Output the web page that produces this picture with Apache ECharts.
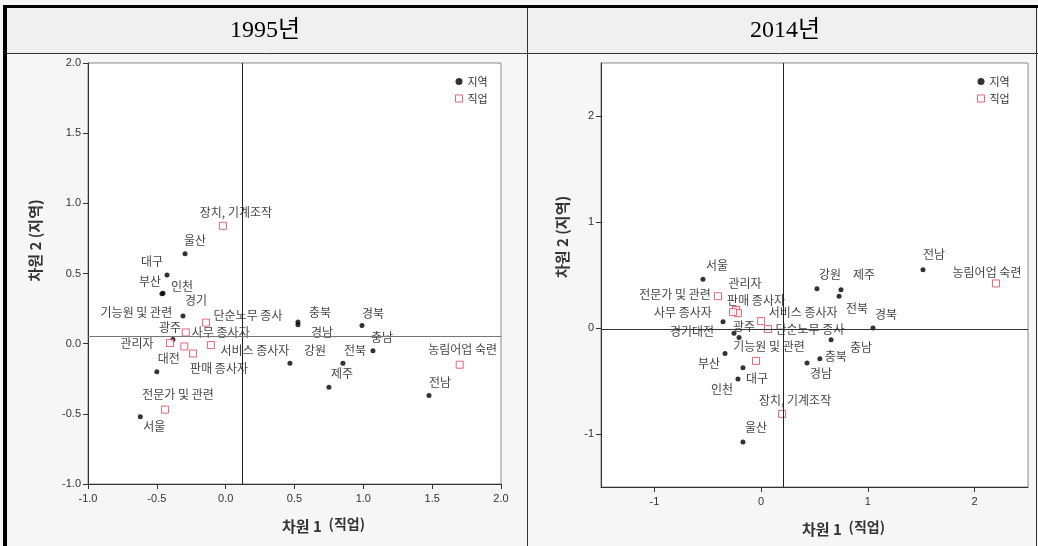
<!DOCTYPE html>
<html>
<head>
<meta charset="utf-8">
<script src="https://cdn.jsdelivr.net/npm/echarts@6/dist/echarts.min.js"></script>
<style>
  html, body { margin: 0; padding: 0; background: #fff; }
  #main { width: 1038px; height: 546px; }
</style>
</head>
<body>
<div id="main"></div>
<script>
// categories
var regionNames = ['서울', '부산', '대구', '인천', '광주', '대전', '울산', '경기',
    '강원', '충북', '충남', '전북', '전남', '경북', '경남', '제주'];
var jobNames = ['관리자', '전문가 및 관련', '사무 종사자', '서비스 종사자', '판매 종사자',
    '농림어업 숙련', '기능원 및 관련', '장치, 기계조작', '단순노무 종사'];

// 1995 (차원 1, 차원 2)
var regionPts1995 = [[-0.62, -0.52], [-0.463, 0.355], [-0.426, 0.49], [-0.455, 0.36],
    [-0.383, 0.03], [-0.50, -0.20], [-0.295, 0.64], [-0.31, 0.198],
    [0.467, -0.14], [0.525, 0.155], [1.07, -0.05], [0.852, -0.14],
    [1.477, -0.37], [0.99, 0.13], [0.525, 0.135], [0.75, -0.31]];
var jobPts1995 = [[-0.404, 0.005], [-0.44, -0.47], [-0.29, 0.08], [-0.107, -0.01], [-0.237, -0.07],
    [1.70, -0.15], [-0.30, -0.02], [-0.02, 0.84], [-0.143, 0.15]];
var ref1995 = [0.12, 0.048];

// 2014
var regionPts2014 = [[-0.545, 0.46], [-0.338, -0.24], [-0.17, -0.375], [-0.217, -0.48],
    [-0.357, 0.06], [-0.207, -0.09], [-0.17, -1.075], [-0.254, -0.05],
    [0.523, 0.37], [0.55, -0.29], [0.655, -0.11], [0.73, 0.30],
    [1.516, 0.55], [1.048, 0.0], [0.43, -0.33], [0.748, 0.36]];
var jobPts2014 = [[-0.235, 0.17], [-0.404, 0.30], [-0.217, 0.14], [0.0, 0.065], [-0.263, 0.15],
    [2.20, 0.42], [-0.048, -0.31], [0.196, -0.81], [0.064, -0.01]];
var ref2014 = [0.21, -0.01];

// tick labels
var ticks1995 = [-1.0, -0.5, 0.0, 0.5, 1.0, 1.5, 2.0];
var ticks2014 = [-1, 0, 1, 2];

// label placement (px offset of label centre from its point)
var labelOff1995 = {
    '서울': [14, 10], '부산': [-12, -12], '대구': [-15, -13], '인천': [19, -7], '광주': [-3, -12],
    '대전': [12, -13], '울산': [10, -13], '경기': [13, -15], '강원': [25, -13], '충북': [22, -9],
    '충남': [9, -13], '전북': [12, -13], '전남': [11, -13], '경북': [11, -12], '경남': [24, 8],
    '제주': [13, -14],
    '관리자': [-33, 0], '전문가 및 관련': [13, -15], '사무 종사자': [35, 0], '서비스 종사자': [44, 5],
    '판매 종사자': [26, 15], '농림어업 숙련': [3, -15], '기능원 및 관련': [-48, -34],
    '장치, 기계조작': [13, -13], '단순노무 종사': [42, -7]
};
var labelOff2014 = {
    '서울': [14, -14], '부산': [-16, 10], '대구': [14, 11], '인천': [-16, 11], '광주': [21, 5],
    '대전': [-36, -6], '울산': [13, -15], '경기': [-53, -2], '강원': [13, -14], '충북': [16, -2],
    '충남': [30, 8], '전북': [18, 12], '전남': [11, -15], '경북': [13, -14], '경남': [14, 10],
    '제주': [23, -15],
    '관리자': [9, -27], '전문가 및 관련': [-43, -2], '사무 종사자': [-55, -1], '서비스 종사자': [42, -9],
    '판매 종사자': [23, -12], '농림어업 숙련': [-9, -11], '기능원 및 관련': [13, -14],
    '장치, 기계조작': [13, -13], '단순노무 종사': [42, 0]
};

var KR = "'Noto Sans CJK KR', sans-serif";
var RED = '#e0405a';

function points(names, pts, offs) {
    return names.map(function (n, i) {
        return { name: n, value: pts[i], label: { offset: offs[n] || [0, 0] } };
    });
}

function xAxisFor(idx, min, max, ticks, dec) {
    return {
        gridIndex: idx, type: 'value', min: min, max: max,
        splitLine: { show: false },
        axisLine: { onZero: false, lineStyle: { color: '#333' } },
        axisTick: { customValues: ticks, length: 5, lineStyle: { color: '#333' } },
        axisLabel: {
            customValues: ticks, margin: 9, color: '#333', fontSize: 11,
            fontFamily: "'Liberation Sans', Arial, sans-serif",
            formatter: function (v) { return v.toFixed(dec); }
        },
        name: '{a|차원 1}  {b|(직업)}', nameLocation: 'middle', nameGap: 33,
        nameTextStyle: {
            padding: [0, 0, 0, 58],
            rich: {
                a: { fontSize: 15, fontWeight: 'bold', color: '#333', fontFamily: KR },
                b: { fontSize: 14, fontWeight: 'bold', color: '#333', fontFamily: KR, padding: [0, 0, 4, 0] }
            }
        }
    };
}

function yAxisFor(idx, min, max, ticks, dec, gap, shift) {
    return {
        gridIndex: idx, type: 'value', min: min, max: max,
        splitLine: { show: false },
        axisLine: { onZero: false, lineStyle: { color: '#333' } },
        axisTick: { customValues: ticks, length: 5, lineStyle: { color: '#333' } },
        axisLabel: {
            customValues: ticks, margin: 7, color: '#333', fontSize: 11,
            fontFamily: "'Liberation Sans', Arial, sans-serif",
            formatter: function (v) { return v.toFixed(dec); }
        },
        name: '차원 2 (지역)', nameLocation: 'middle', nameGap: gap,
        nameTextStyle: { fontSize: 15, fontWeight: 'bold', color: '#333', fontFamily: KR, padding: [0, 0, 0, shift] }
    };
}

function regionSeries(idx, pts, offs, ref) {
    return {
        name: '지역', type: 'scatter', xAxisIndex: idx, yAxisIndex: idx,
        symbol: 'circle', symbolSize: 5, itemStyle: { color: '#000' },
        data: points(regionNames, pts, offs),
        label: {
            show: true, position: 'inside', formatter: '{b}', color: '#111',
            fontSize: 12, fontFamily: KR
        },
        markLine: {
            silent: true, symbol: 'none', animation: false,
            label: { show: false },
            data: [
                { xAxis: ref[0], lineStyle: { color: '#222', width: 1, type: 'solid' } },
                { yAxis: ref[1], lineStyle: { color: idx === 0 ? '#777' : '#333', width: 1, type: 'solid' } }
            ]
        },
        z: 3
    };
}

function jobSeries(idx, pts, offs) {
    return {
        name: '직업', type: 'scatter', xAxisIndex: idx, yAxisIndex: idx,
        symbol: 'rect', symbolSize: 7,
        itemStyle: { color: '#fff', borderColor: RED, borderWidth: 1 },
        data: points(jobNames, pts, offs),
        label: {
            show: true, position: 'inside', formatter: '{b}', color: '#111',
            fontSize: 12, fontFamily: KR
        },
        z: 4
    };
}

function legendAt(left) {
    return {
        orient: 'vertical', left: left, top: 71, itemWidth: 7, itemHeight: 7, itemGap: 6,
        selectedMode: false,
        textStyle: { fontSize: 11, color: '#333', fontFamily: KR },
        data: [
            { name: '지역', icon: 'circle', itemStyle: { color: '#000' } },
            { name: '직업', icon: 'rect', itemStyle: { color: '#fff', borderColor: RED, borderWidth: 1 } }
        ]
    };
}

var chart = echarts.init(document.getElementById('main'));
chart.setOption({
    animation: false,
    backgroundColor: '#f6f6f6',
    graphic: [
        { type: 'rect', z: -1, shape: { x: 7, y: 8, width: 1031, height: 45 }, style: { fill: '#f0f0f0' } },
        { type: 'rect', z: 10, shape: { x: 3, y: 5, width: 1035, height: 3 }, style: { fill: '#000' } },
        { type: 'rect', z: 10, shape: { x: 3, y: 5, width: 4, height: 541 }, style: { fill: '#000' } },
        { type: 'line', z: 10, shape: { x1: 7, y1: 53.5, x2: 1038, y2: 53.5 }, style: { stroke: '#333', lineWidth: 1 } },
        { type: 'line', z: 10, shape: { x1: 527.5, y1: 8, x2: 527.5, y2: 546 }, style: { stroke: '#333', lineWidth: 1 } },
        { type: 'line', z: 10, shape: { x1: 1036.5, y1: 8, x2: 1036.5, y2: 546 }, style: { stroke: '#333', lineWidth: 1 } },
        { type: 'text', z: 10, style: { text: '1995년', x: 265, y: 31, textAlign: 'center', textVerticalAlign: 'middle',
            font: "24px 'Liberation Serif', 'Noto Sans CJK KR', serif", fill: '#000' } },
        { type: 'text', z: 10, style: { text: '2014년', x: 785, y: 31, textAlign: 'center', textVerticalAlign: 'middle',
            font: "24px 'Liberation Serif', 'Noto Sans CJK KR', serif", fill: '#000' } }
    ],
    legend: [legendAt(450), legendAt(972)],
    grid: [
        { left: 88, top: 63, width: 413, height: 421, show: true, backgroundColor: '#fff',
          borderColor: '#888', borderWidth: 1, outerBoundsMode: 'none' },
        { left: 601, top: 63, width: 427, height: 424, show: true, backgroundColor: '#fff',
          borderColor: '#888', borderWidth: 1, outerBoundsMode: 'none' }
    ],
    xAxis: [
        xAxisFor(0, -1, 2, ticks1995, 1),
        xAxisFor(1, -1.5, 2.5, ticks2014, 0)
    ],
    yAxis: [
        yAxisFor(0, -1, 2, ticks1995, 1, 45, 66),
        yAxisFor(1, -1.5, 2.5, ticks2014, 0, 31, 76)
    ],
    series: [
        regionSeries(0, regionPts1995, labelOff1995, ref1995),
        jobSeries(0, jobPts1995, labelOff1995),
        regionSeries(1, regionPts2014, labelOff2014, ref2014),
        jobSeries(1, jobPts2014, labelOff2014)
    ]
});
</script>
</body>
</html>
